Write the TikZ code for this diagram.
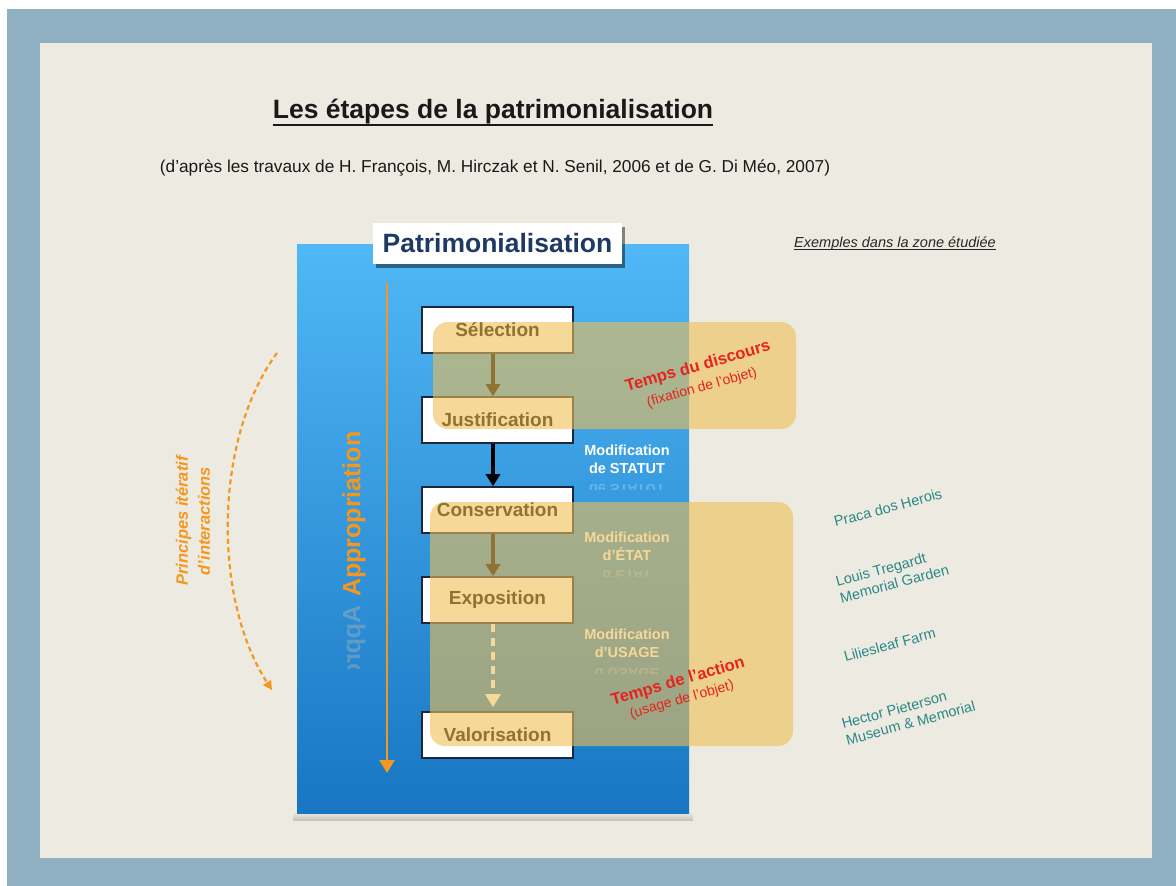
\documentclass[tikz,border=0pt]{standalone}
\usepackage{fontspec}
\setmainfont{Liberation Sans}
\usetikzlibrary{arrows.meta,shadows,fadings}
\definecolor{frameblue}{RGB}{143,176,193}
\definecolor{paper}{RGB}{237,235,225}
\definecolor{bluetop}{RGB}{80,184,246}
\definecolor{bluebot}{RGB}{24,118,194}
\definecolor{navy}{RGB}{30,58,100}
\definecolor{boxline}{RGB}{28,38,60}
\definecolor{orangeA}{RGB}{245,150,30}
\definecolor{overlayc}{RGB}{240,190,85}
\definecolor{redT}{RGB}{230,35,30}
\definecolor{tealT}{RGB}{42,135,135}
\begin{document}
\begin{tikzpicture}[x=1pt,y=-1pt,
  stepbox/.style={draw=boxline, line width=1.6pt, fill=white, minimum width=151pt, minimum height=46pt, inner sep=0pt, font=\fontsize{19}{22}\selectfont\bfseries},
  flow/.style={line width=4pt, -{Triangle[width=14pt,length=12pt]}},
  overlaybox/.style={fill=overlayc, fill opacity=0.6, rounded corners=15pt},
  modif/.style={font=\fontsize{14.5}{18}\selectfont\bfseries, align=center, text=white, inner sep=0pt},
  example/.style={text=tealT, font=\fontsize{14.5}{17}\selectfont, rotate=15, align=left, anchor=west, inner sep=0pt},
  redtitle/.style={text=redT, font=\fontsize{16.5}{19}\selectfont\bfseries, rotate=16, inner sep=0pt},
  redsub/.style={text=redT, font=\fontsize{14}{16}\selectfont, rotate=16, inner sep=0pt}]
% background
\fill[white] (0,0) rectangle (1176,886);
\fill[frameblue] (7,9) rectangle (1176,886);
\fill[paper] (40,43) rectangle (1152,858);
% title
\node[font=\fontsize{26.5}{30}\selectfont\bfseries, inner sep=0pt, anchor=base, text=black!90] (title) at (493,118) {Les étapes de la patrimonialisation};
\draw[black!90, line width=2.2pt] ([yshift=-7pt]title.base west) -- ([yshift=-7pt]title.base east);
\node[font=\fontsize{17.25}{20}\selectfont, inner sep=0pt, anchor=base, text=black!90] (subtitle) at (495,172) {(d’après les travaux de H. François, M. Hirczak et N. Senil, 2006 et de G. Di Méo, 2007)};
% blue panel
\fill[black, opacity=0.18, path fading=north] (293,812) rectangle (693,821);
\shade[top color=bluetop, bottom color=bluebot] (297,244) rectangle (689,813);
\node[fill=white, drop shadow={shadow xshift=3pt, shadow yshift=-4pt, opacity=0.45, fill=black}, minimum width=249pt, minimum height=41pt, inner sep=0pt, text=navy, font=\fontsize{26.5}{30}\selectfont\bfseries] (patri) at (497.5,243) {Patrimonialisation};
\node[font=\fontsize{14.5}{17}\selectfont\itshape, text=black!85, inner sep=0pt, anchor=base] (exTitle) at (895,247) {Exemples dans la zone étudiée};
\draw[black!85, line width=0.8pt] ([yshift=-2.5pt]exTitle.base west) -- ([yshift=-2.5pt]exTitle.base east);
% appropriation
\coordinate (apTop) at (387,283);
\coordinate (apBot) at (387,773);
\draw[orangeA, line width=2.5pt, -{Triangle[width=15pt,length=13pt]}] (apTop) -- (apBot);
\node[rotate=90, anchor=west, inner sep=0pt, text=orangeA, font=\fontsize{25}{28}\selectfont\bfseries] (appro) at (354,597) {Appropriation};
\begin{scope}
\clip (330,601) rectangle (380,668);
\begin{scope}[shift={(354,601)}, yscale=-1, transform shape]
\node[rotate=90, anchor=west, inner sep=0pt, text=white!60!orangeA, text opacity=0.25, font=\fontsize{25}{28}\selectfont\bfseries] (approRefl) at (0,-4) {Appropriation};
\end{scope}
\end{scope}
% steps
\node[stepbox] (sel) at (497.5,330) {Sélection};
\node[stepbox] (just) at (497.5,420) {Justification};
\node[stepbox] (cons) at (497.5,510) {Conservation};
\node[stepbox] (expo) at (497.5,600) {Exposition};
\node[stepbox] (valo) at (497.5,735) {Valorisation};
\draw[flow] ([xshift=-4.5pt]sel.south) -- ([xshift=-4.5pt]just.north);
\draw[flow] ([xshift=-4.5pt]just.south) -- ([xshift=-4.5pt]cons.north);
\draw[flow] ([xshift=-4.5pt]cons.south) -- ([xshift=-4.5pt]expo.north);
\draw[white, line width=4pt, dash pattern=on 8pt off 6pt, -{Triangle[width=15pt,length=13pt]}, shorten >=4pt] ([xshift=-4.5pt]expo.south) -- ([xshift=-4.5pt]valo.north);
% modifications
\node[modif] (mStatut) at (627,459) {Modification\\de STATUT};
\node[modif] (mEtat) at (627,546) {Modification\\d’ÉTAT};
\node[modif] (mUsage) at (627,643) {Modification\\d’USAGE};
\begin{scope}
\clip (580,479) rectangle (680,489);
\begin{scope}[shift={(627,479)}, yscale=-1, transform shape]
\node[modif, text opacity=0.25] (rStatut) at (0,-11) {de STATUT};
\end{scope}
\end{scope}
\begin{scope}
\clip (580,566) rectangle (680,576);
\begin{scope}[shift={(627,566)}, yscale=-1, transform shape]
\node[modif, text opacity=0.25] (rEtat) at (0,-11) {d’ÉTAT};
\end{scope}
\end{scope}
\begin{scope}
\clip (580,663) rectangle (680,673);
\begin{scope}[shift={(627,663)}, yscale=-1, transform shape]
\node[modif, text opacity=0.25] (rUsage) at (0,-11) {d’USAGE};
\end{scope}
\end{scope}
% overlays
\fill[overlaybox] (433,322) rectangle (796,429);
\fill[overlaybox] (430,502) rectangle (793,746);
\node[redtitle] (tdisc) at (698,367) {Temps du discours};
\node[redsub] (tdiscsub) at (702,388) {(fixation de l’objet)};
\node[redtitle] (tact) at (678,682) {Temps de l’action};
\node[redsub] (tactsub) at (682,700) {(usage de l’objet)};
% left iterative arrow
\node[rotate=90, text=orangeA, font=\fontsize{16.5}{22}\selectfont\bfseries\itshape, align=center, inner sep=0pt] (princ) at (193,521) {Principes itératif\\d’interactions};
\coordinate (cStart) at (277,353);
\coordinate (cEnd) at (272,690);
\draw[orangeA, line width=2.2pt, dash pattern=on 5pt off 3.5pt, -{Triangle[width=9pt,length=9pt]}] (cStart) .. controls (213,440) and (213,600) .. (cEnd);
% examples
\node[example] (ex1) at (834,522) {Praca dos Herois};
\node[example] (ex2) at (838,590) {Louis Tregardt\\Memorial Garden};
\node[example] (ex3) at (844,657) {Liliesleaf Farm};
\node[example] (ex4) at (844,732) {Hector Pieterson\\Museum \& Memorial};
\useasboundingbox (0,0) rectangle (1176,886);
\end{tikzpicture}
\end{document}
